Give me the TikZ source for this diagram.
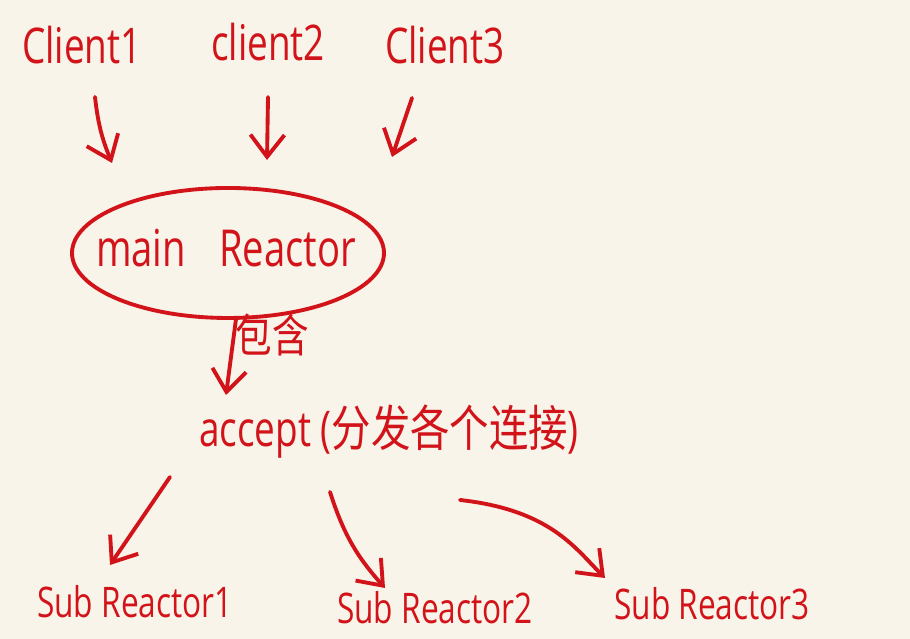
\documentclass[tikz,border=0pt]{standalone}
\usepackage{fontspec}
\setmainfont{Open Sans}
\newfontfamily\hand[FakeStretch=0.75]{Open Sans}
\newfontfamily\cjk[FakeStretch=0.8]{Noto Sans CJK SC}
\usetikzlibrary{arrows.meta,shapes.geometric}
\definecolor{ink}{HTML}{D2141A}
\definecolor{paper}{HTML}{F8F4E9}

\begin{document}
\begin{tikzpicture}[
    txt/.style={text=ink, inner sep=0pt, font=\fontsize{14}{16}\selectfont\hand},
    subtxt/.style={text=ink, inner sep=0pt, font=\fontsize{12}{14}\selectfont\hand},
    arr/.style={-{Straight Barb[length=2.2mm, width=3.4mm]}, line width=1.1pt, ink, line cap=round},
]
\fill[paper] (0,0) rectangle (9.1,6.39);
\useasboundingbox (0,0) rectangle (9.1,6.39);

% Clients
\node[txt] (c1) at (0.82,5.94) {Client1};
\node[txt] (c2) at (2.68,5.97) {client2};
\node[txt] (c3) at (4.45,5.94) {Client3};

% main Reactor
\node[draw=ink, line width=1.1pt, ellipse, minimum width=3.12cm, minimum height=1.30cm] (main) at (2.28,3.86) {};
\node[txt, font=\fontsize{14.5}{16}\selectfont\hand] (mainlbl) at ([shift={(-0.02,0.05)}]main.center) {main\hspace{0.33cm}Reactor};
\node[txt, font=\fontsize{13}{15}\selectfont\cjk] (lbl) at (2.72,3.04) {包含};

% accept
\node[txt] (acc) at (3.89,2.07) {accept ({\cjk 分发各个连接})};

% Sub Reactors
\node[subtxt] (s1) at (1.35,0.37) {Sub Reactor1};
\node[subtxt] (s2) at (4.35,0.31) {Sub Reactor2};
\node[subtxt] (s3) at (7.12,0.35) {Sub Reactor3};

% Arrows
\draw[arr] ([shift={(0.13,-0.52)}]c1.center) to[bend right=8] ([shift={(-1.16,0.90)}]main.center);
\draw[arr] ([shift={(0,-0.55)}]c2.center) -- ([shift={(0.39,0.93)}]main.center);
\draw[arr] ([shift={(-0.33,-0.53)}]c3.center) -- ([shift={(1.64,0.96)}]main.center);
\draw[arr] ([shift={(0.08,-0.66)}]main.center) -- ([shift={(-1.63,0.37)}]acc.center);
\draw[arr] ([shift={(-2.19,-0.45)}]acc.center) -- ([shift={(-0.25,0.37)}]s1.center);
\draw[arr] ([shift={(-0.59,-0.60)}]acc.center) to[bend right=12] ([shift={(-0.50,0.20)}]s2.center);
\draw[arr] ([shift={(0.71,-0.68)}]acc.center) .. controls +(0.9,-0.1) and +(-0.3,0.3) .. ([shift={(-1.07,0.26)}]s3.center);
\end{tikzpicture}
\end{document}
